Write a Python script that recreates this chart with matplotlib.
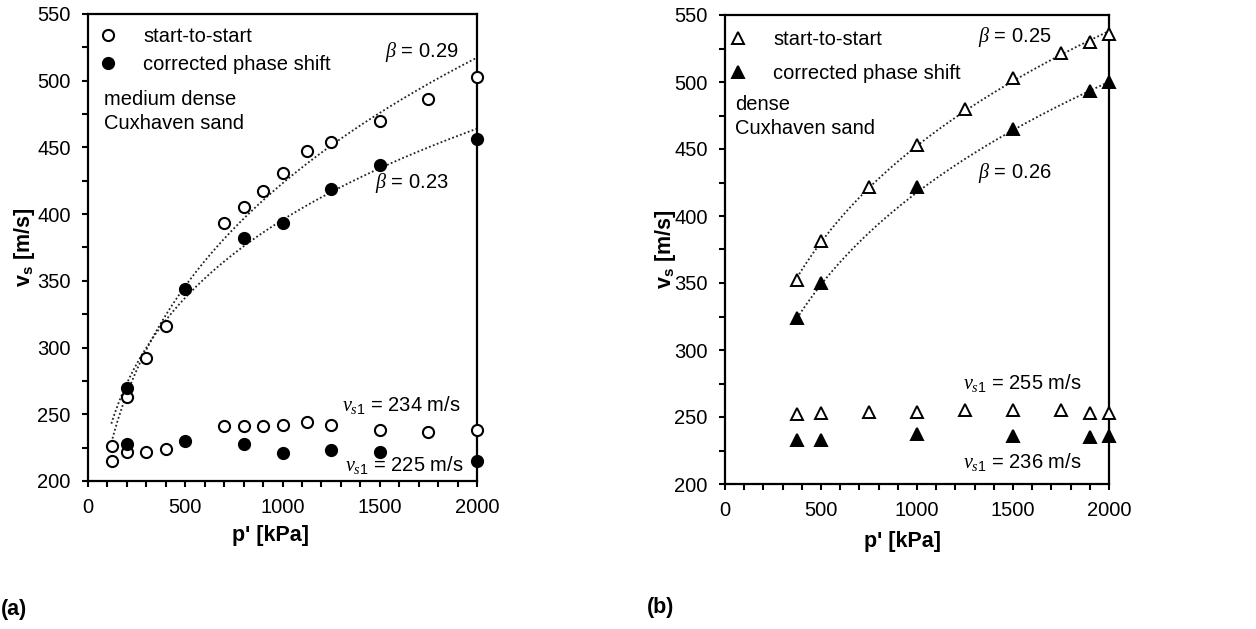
import numpy as np
import matplotlib
matplotlib.use("Agg")
import matplotlib.pyplot as plt
from matplotlib.lines import Line2D
from matplotlib.ticker import MultipleLocator

plt.rcParams['font.family'] = ['Liberation Sans', 'DejaVu Sans']
plt.rcParams['mathtext.fontset'] = 'custom'
plt.rcParams['mathtext.rm'] = 'Liberation Sans'
plt.rcParams['mathtext.it'] = 'Liberation Serif:italic'
plt.rcParams['mathtext.bf'] = 'Liberation Sans:bold'

# ---------------- data: panel (a) medium dense ----------------
p_a_open = [125, 200, 300, 400, 700, 800, 900, 1000, 1125, 1250, 1500, 1750, 2000]
vs_a_open = [226, 263, 292, 316, 393, 405, 417, 431, 447, 454, 470, 486, 503]
vs1_a_open = [215, 222, 221.5, 224, 241, 241, 241, 242, 244, 242, 238, 237, 238]

p_a_fill = [200, 500, 800, 1000, 1250, 1500, 2000]
vs_a_fill = [270, 344, 382, 393, 419, 437, 456]
vs1_a_fill = [228, 230, 228, 221, 223, 222, 215]

# ---------------- data: panel (b) dense ----------------
p_b_open = [375, 500, 750, 1000, 1250, 1500, 1750, 1900, 2000]
vs_b_open = [352, 381, 422, 453, 480, 503, 522, 530, 536]
vs1_b_open = [252.5, 253, 254, 254, 255, 255, 255, 253, 253]

p_b_fill = [375, 500, 1000, 1500, 1900, 2000]
vs_b_fill = [324, 350, 422, 465, 493, 500]
vs1_b_fill = [232.5, 232.5, 237, 236, 235, 236]

# power-law trend lines  vs = A * (p/100)^beta
fit_a_open = dict(A=217.0, beta=0.29, p0=120, p1=2000)
fit_a_fill = dict(A=233.0, beta=0.23, p0=120, p1=2000)
fit_b_open = dict(A=254.4, beta=0.25, p0=375, p1=2000)
fit_b_fill = dict(A=229.5, beta=0.26, p0=375, p1=2000)

FS = 14.5
W, H = 1256, 629
fig = plt.figure(figsize=(W / 100, H / 100), dpi=100)
ax1 = fig.add_axes([88 / W, 1 - 481 / H, 389 / W, 467 / H])
ax2 = fig.add_axes([725 / W, 1 - 484 / H, 384 / W, 469 / H])


def trend(ax, f):
    p = np.linspace(f['p0'], f['p1'], 200)
    ax.plot(p, f['A'] * (p / 100.0) ** f['beta'], color='#222222',
            lw=1.3, ls=(0, (1, 1.3)), zorder=2)


def style(ax, xl, yl):
    ax.set_xlim(0, 2000)
    ax.set_ylim(200, 550)
    ax.xaxis.set_major_locator(MultipleLocator(500))
    ax.xaxis.set_minor_locator(MultipleLocator(100))
    ax.yaxis.set_major_locator(MultipleLocator(50))
    ax.yaxis.set_minor_locator(MultipleLocator(25))
    for s in ax.spines.values():
        s.set_linewidth(1.6)
    ax.tick_params(which='both', direction='out', length=4.5, width=1.5,
                   top=False, right=False, pad=8, labelsize=FS)
    ax.set_xlabel("p' [kPa]", fontsize=15.5, fontweight='bold', va='center')
    ax.xaxis.set_label_coords(*xl)
    ax.set_ylabel(r'$\mathbf{v_s}$ [m/s]', fontsize=15.5, fontweight='bold', va='center')
    ax.yaxis.set_label_coords(*yl)


MS = 8
open_c = dict(marker='o', ms=MS, mfc='white', mec='black', mew=1.5, ls='none', clip_on=False, zorder=4)
fill_c = dict(marker='o', ms=MS, mfc='black', mec='black', mew=1.5, ls='none', clip_on=False, zorder=4)
open_t = dict(marker='^', ms=MS, mfc='white', mec='black', mew=1.4, ls='none', clip_on=False, zorder=4)
fill_t = dict(marker='^', ms=MS, mfc='black', mec='black', mew=1.4, ls='none', clip_on=False, zorder=4)

# ---------- panel (a) ----------
trend(ax1, fit_a_open)
trend(ax1, fit_a_fill)
ax1.plot(p_a_open, vs_a_open, **open_c)
ax1.plot(p_a_open, vs1_a_open, **open_c)
ax1.plot(p_a_fill, vs_a_fill, **fill_c)
ax1.plot(p_a_fill, vs1_a_fill, **fill_c)
style(ax1, ((270 - 88) / 389, (481 - 536) / 467), ((24 - 88) / 389, 0.5))

h1 = [Line2D([], [], **open_c), Line2D([], [], **fill_c)]
ax1.legend(h1, ['start-to-start', 'corrected phase shift'], loc='upper left',
           bbox_to_anchor=(10 / 389, 1 - 13 / 467), frameon=False, fontsize=FS,
           handlelength=1.0, handletextpad=1.25, borderpad=0, borderaxespad=0,
           labelspacing=0.43)

ax1.text(16 / 389, 1 - 76 / 467, 'medium dense\nCuxhaven sand', transform=ax1.transAxes,
         fontsize=FS, va='top', ha='left', linespacing=1.35)
ax1.text(297 / 389, 1 - 38 / 467, r'$\beta$ = %.2f' % fit_a_open['beta'], transform=ax1.transAxes,
         fontsize=FS, va='center', ha='left')
ax1.text(287 / 389, 1 - 169 / 467, r'$\beta$ = %.2f' % fit_a_fill['beta'], transform=ax1.transAxes,
         fontsize=FS, va='center', ha='left')
ax1.text(254 / 389, 1 - 391 / 467, r'$v_{s1}$ = 234 m/s', transform=ax1.transAxes,
         fontsize=FS, va='center', ha='left')
ax1.text(257 / 389, 1 - 451 / 467, r'$v_{s1}$ = 225 m/s', transform=ax1.transAxes,
         fontsize=FS, va='center', ha='left')

# ---------- panel (b) ----------
trend(ax2, fit_b_open)
trend(ax2, fit_b_fill)
ax2.plot(p_b_open, vs_b_open, **open_t)
ax2.plot(p_b_open, vs1_b_open, **open_t)
ax2.plot(p_b_fill, vs_b_fill, **fill_t)
ax2.plot(p_b_fill, vs1_b_fill, **fill_t)
style(ax2, ((902 - 725) / 384, (484 - 541) / 469), ((665 - 725) / 384, 0.5))

h2 = [Line2D([], [], **open_t), Line2D([], [], **fill_t)]
ax2.legend(h2, ['start-to-start', 'corrected phase shift'], loc='upper left',
           bbox_to_anchor=(3 / 384, 1 - 15 / 469), frameon=False, fontsize=FS,
           handlelength=1.0, handletextpad=1.25, borderpad=0, borderaxespad=0,
           labelspacing=0.74)

ax2.text(10 / 384, 1 - 80 / 469, 'dense\nCuxhaven sand', transform=ax2.transAxes,
         fontsize=FS, va='top', ha='left', linespacing=1.3)
ax2.text(253 / 384, 1 - 22 / 469, r'$\beta$ = %.2f' % fit_b_open['beta'], transform=ax2.transAxes,
         fontsize=FS, va='center', ha='left')
ax2.text(253 / 384, 1 - 158 / 469, r'$\beta$ = %.2f' % fit_b_fill['beta'], transform=ax2.transAxes,
         fontsize=FS, va='center', ha='left')
ax2.text(238 / 384, 1 - 368 / 469, r'$v_{s1}$ = 255 m/s', transform=ax2.transAxes,
         fontsize=FS, va='center', ha='left')
ax2.text(238 / 384, 1 - 447 / 469, r'$v_{s1}$ = 236 m/s', transform=ax2.transAxes,
         fontsize=FS, va='center', ha='left')

# panel letters
fig.text(1 / W, 1 - 610 / H, '(a)', fontsize=15.5, fontweight='bold', va='center', ha='left')
fig.text(647 / W, 1 - 608 / H, '(b)', fontsize=15.5, fontweight='bold', va='center', ha='left')

fig.savefig('out.png', dpi=100)
